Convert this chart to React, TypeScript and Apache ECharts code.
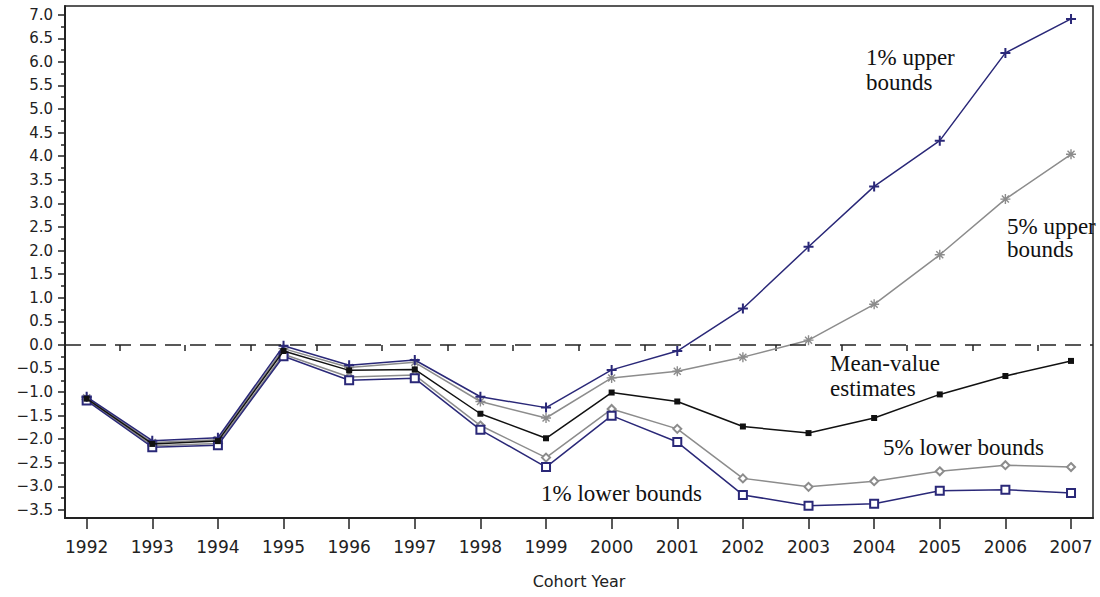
import React, { useEffect, useRef } from "react";
import * as echarts from "echarts";

// Cohort years on the horizontal axis
const years = [1992, 1993, 1994, 1995, 1996, 1997, 1998, 1999, 2000, 2001, 2002, 2003, 2004, 2005, 2006, 2007];

// Estimated values and confidence bounds per cohort year
const upper1 = [-1.1, -2.03, -1.97, -0.02, -0.43, -0.32, -1.1, -1.33, -0.53, -0.13, 0.77, 2.08, 3.36, 4.33, 6.19, 6.91];
const upper5 = [-1.12, -2.07, -2.01, -0.08, -0.48, -0.37, -1.2, -1.55, -0.7, -0.56, -0.26, 0.1, 0.86, 1.91, 3.09, 4.04];
const meanValue = [-1.14, -2.1, -2.04, -0.13, -0.54, -0.52, -1.46, -1.98, -1.01, -1.2, -1.73, -1.87, -1.55, -1.05, -0.66, -0.34];
const lower5 = [-1.16, -2.14, -2.09, -0.2, -0.68, -0.64, -1.71, -2.39, -1.36, -1.78, -2.83, -3.01, -2.89, -2.68, -2.55, -2.59];
const lower1 = [-1.18, -2.17, -2.13, -0.24, -0.75, -0.71, -1.8, -2.59, -1.5, -2.06, -3.18, -3.41, -3.37, -3.09, -3.07, -3.14];

// Tick positions
const yLabels = [-3.5, -3.0, -2.5, -2.0, -1.5, -1.0, -0.5, 0.0, 0.5, 1.0, 1.5, 2.0, 2.5, 3.0, 3.5, 4.0, 4.5, 5.0, 5.5, 6.0, 6.5, 7.0];
const yMinorTicks = [-3.25, -2.75, -2.25, -1.75, -1.25, -0.75, -0.25, 0.25, 0.75, 1.25, 1.75, 2.25, 2.75, 3.25, 3.75, 4.25, 4.75, 5.25, 5.75, 6.25, 6.75];
const xMinorTicks = [1992.5, 1993.5, 1994.5, 1995.5, 1996.5, 1997.5, 1998.5, 1999.5, 2000.5, 2001.5, 2002.5, 2003.5, 2004.5, 2005.5, 2006.5];

const NAVY = "#2a2878";
const GRAY = "#8c8c8c";
const BLACK = "#111111";

const X_MIN = 1991.67;
const X_MAX = 2007.335;
const Y_MIN = -3.67;
const Y_MAX = 7.184;

const PLUS = "path://M4,0H6V4H10V6H6V10H4V6H0V4H4Z";
const STAR =
  "path://M4.3,0H5.7V3.3L8.0,1.0L9.0,2.0L6.7,4.3H10V5.7H6.7L9.0,8.0L8.0,9.0L5.7,6.7V10H4.3V6.7L2.0,9.0L1.0,8.0L3.3,5.7H0V4.3H3.3L1.0,2.0L2.0,1.0L4.3,3.3Z";

const pairs = (vals: number[]) => years.map((y, i) => [y, vals[i]]);

const fmtY = (v: number) => (v < 0 ? "\u2212" : "") + Math.abs(v).toFixed(1);

const serif = "Liberation Serif, Times New Roman, serif";

function note(text: string, x: number, y: number) {
  return {
    type: "text",
    x,
    y,
    silent: true,
    style: {
      text,
      fill: "#111",
      font: `23px ${serif}`,
      align: "left",
      verticalAlign: "middle",
    },
  };
}

export default function App() {
  const ref = useRef<HTMLDivElement>(null);

  useEffect(() => {
    if (!ref.current) return;
    const chart = echarts.init(ref.current, undefined, { renderer: "svg" });

    const axisFont = { fontFamily: "DejaVu Sans, sans-serif", color: "#222" };

    chart.setOption({
      animation: false,
      backgroundColor: "#ffffff",
      grid: {
        left: 65,
        right: 7,
        top: 6,
        bottom: 79,
        show: true,
        borderColor: "#222",
        borderWidth: 1.5,
        backgroundColor: "transparent",
      },
      xAxis: [
        {
          type: "value",
          min: X_MIN,
          max: X_MAX,
          name: "Cohort Year",
          nameLocation: "middle",
          nameGap: 55,
          nameTextStyle: { ...axisFont, fontSize: 16 },
          axisLine: { show: true, onZero: false, lineStyle: { color: "#222", width: 2 } },
          axisTick: { show: true, customValues: years, length: 11, lineStyle: { color: "#222", width: 1.5 } },
          axisLabel: {
            show: true,
            customValues: years,
            margin: 20,
            fontSize: 17,
            ...axisFont,
            formatter: (v: number) => String(Math.round(v)),
          },
          splitLine: { show: false },
        },
        {
          type: "value",
          min: X_MIN,
          max: X_MAX,
          position: "bottom",
          axisLine: { show: false },
          axisTick: { show: true, customValues: xMinorTicks, length: 6, lineStyle: { color: "#222", width: 1.5 } },
          axisLabel: { show: false },
          splitLine: { show: false },
        },
      ],
      yAxis: [
        {
          type: "value",
          min: Y_MIN,
          max: Y_MAX,
          axisLine: { show: true, onZero: false, lineStyle: { color: "#222", width: 2 } },
          axisTick: { show: true, customValues: yLabels, length: 7, lineStyle: { color: "#222", width: 1.5 } },
          axisLabel: {
            show: true,
            customValues: yLabels,
            margin: 12,
            fontSize: 15,
            ...axisFont,
            formatter: (v: number) => fmtY(v),
          },
          splitLine: { show: false },
        },
        {
          type: "value",
          min: Y_MIN,
          max: Y_MAX,
          position: "left",
          axisLine: { show: false },
          axisTick: { show: true, customValues: yMinorTicks, length: 4, lineStyle: { color: "#222", width: 1.5 } },
          axisLabel: { show: false },
          splitLine: { show: false },
        },
      ],
      series: [
        {
          name: "5% lower bounds",
          type: "line",
          data: pairs(lower5),
          symbol: "emptyDiamond",
          symbolSize: 8,
          lineStyle: { color: GRAY, width: 1.5 },
          itemStyle: { color: GRAY, borderWidth: 1.5 },
          z: 2,
        },
        {
          name: "5% upper bounds",
          type: "line",
          data: pairs(upper5),
          symbol: STAR,
          symbolSize: 10,
          lineStyle: { color: GRAY, width: 1.5 },
          itemStyle: { color: GRAY },
          z: 2,
        },
        {
          name: "1% lower bounds",
          type: "line",
          data: pairs(lower1),
          symbol: "emptyRect",
          symbolSize: 8,
          lineStyle: { color: NAVY, width: 1.5 },
          itemStyle: { color: NAVY, borderWidth: 1.5 },
          z: 3,
        },
        {
          name: "1% upper bounds",
          type: "line",
          data: pairs(upper1),
          symbol: PLUS,
          symbolSize: 10,
          lineStyle: { color: NAVY, width: 1.5 },
          itemStyle: { color: NAVY },
          z: 3,
        },
        {
          name: "Mean-value estimates",
          type: "line",
          data: pairs(meanValue),
          symbol: "rect",
          symbolSize: 6,
          lineStyle: { color: BLACK, width: 1.5 },
          itemStyle: { color: BLACK },
          z: 4,
          markLine: {
            silent: true,
            symbol: "none",
            label: { show: false },
            lineStyle: { color: "#222", type: [16, 9], width: 1.5 },
            data: [{ yAxis: 0 }],
          },
        },
      ],
      graphic: [
        note("1% upper", 866, 57),
        note("bounds", 866, 82),
        note("5% upper", 1007, 226),
        note("bounds", 1007, 249),
        note("Mean-value", 830, 363),
        note("estimates", 830, 388),
        note("5% lower bounds", 883, 447),
        note("1% lower bounds", 541, 493),
      ],
    });

    return () => chart.dispose();
  }, []);

  return <div ref={ref} style={{ width: 1100, height: 597, position: "absolute", left: 0, top: 0 }} />;
}
